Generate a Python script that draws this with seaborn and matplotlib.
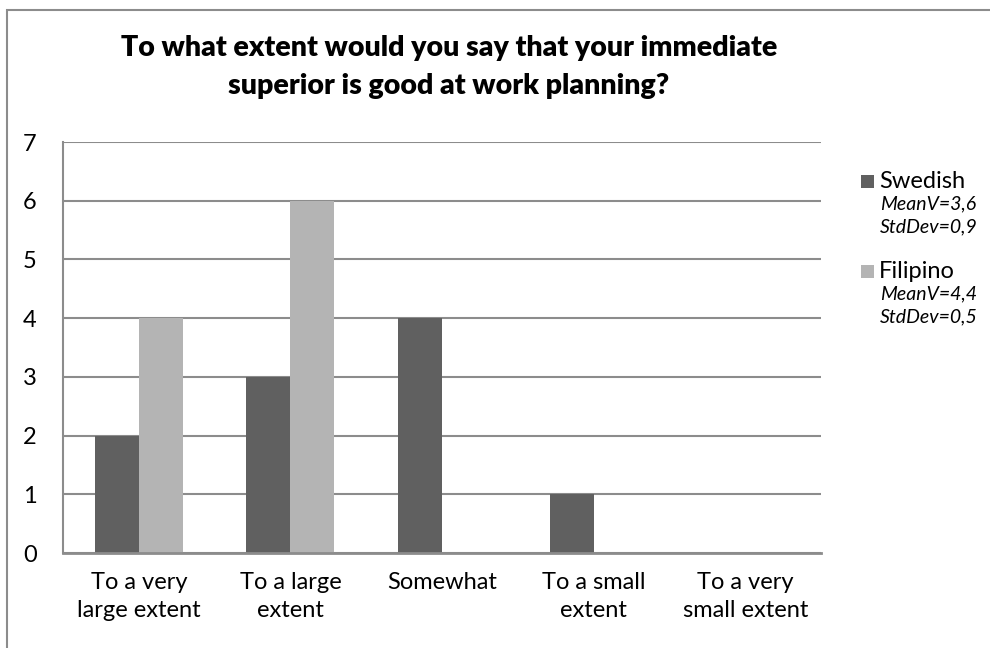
import matplotlib
matplotlib.use("Agg")
import matplotlib.pyplot as plt
from matplotlib.patches import Rectangle
import seaborn as sns
import pandas as pd

categories = ["To a very\nlarge extent", "To a large\nextent", "Somewhat",
              "To a small\nextent", "To a very\nsmall extent"]
swedish = [2, 3, 4, 1, 0]
filipino = [4, 6, 0, 0, 0]
series_names = ["Swedish", "Filipino"]
series_stats = [("MeanV=3,6", "StdDev=0,9"), ("MeanV=4,4", "StdDev=0,5")]
yticks = [0, 1, 2, 3, 4, 5, 6, 7]
title = "To what extent would you say that your immediate\nsuperior is good at work planning?"

colors = ["#606060", "#B4B4B4"]
grid_color = "#8C8C8C"

sns.set_theme(style="white")
plt.rcParams["font.family"] = ["Lato", "DejaVu Sans"]
plt.rcParams["text.color"] = "black"
plt.rcParams["xtick.color"] = "black"
plt.rcParams["ytick.color"] = "black"

df = pd.DataFrame({
    "category": categories * 2,
    "value": swedish + filipino,
    "series": [series_names[0]] * len(categories) + [series_names[1]] * len(categories),
})

W, H = 990, 648
fig = plt.figure(figsize=(W / 100, H / 100), dpi=100)
ax = fig.add_axes([63 / W, 1 - 553 / H, (821 - 63) / W, (553 - 142) / H])

sns.barplot(data=df, x="category", y="value", hue="series", order=categories,
            hue_order=series_names, palette=colors, width=0.58, gap=0,
            saturation=1, linewidth=0, ax=ax, legend=False)

ax.set_ylim(0, 7)
ax.set_xlim(-0.5, len(categories) - 0.5)
ax.set_yticks(yticks)
ax.set_yticklabels([str(t) for t in yticks], fontsize=17)
ax.tick_params(axis="y", length=0, pad=19, labelcolor="black")
ax.tick_params(axis="x", length=0, pad=14, labelsize=17, labelcolor="black")
for lbl in ax.get_xticklabels():
    lbl.set_linespacing(1.4)
ax.set_xlabel("")
ax.set_ylabel("")
ax.yaxis.grid(True, color=grid_color, linewidth=1.5)
ax.set_axisbelow(True)
ax.spines["left"].set_color(grid_color)
ax.spines["left"].set_linewidth(1.5)
ax.spines["bottom"].set_color(grid_color)
ax.spines["bottom"].set_linewidth(2)
ax.spines["right"].set_visible(False)
ax.spines["top"].set_visible(False)

# chart border
fig.patches.append(Rectangle((6.5 / W, -0.05), 1.1, 1 - 10 / H + 0.05,
                             transform=fig.transFigure, fill=False,
                             edgecolor="#8C8C8C", linewidth=1.5))

fig.text(449 / W, 1 - 67 / H, title, ha="center", va="center",
         fontsize=20.5, fontweight="heavy", linespacing=1.55)

# legend with per-series statistics
entries_y = [181, 271]
for name, col, (mean_txt, std_txt), y in zip(series_names, colors, series_stats, entries_y):
    fig.patches.append(Rectangle((861 / W, 1 - (y + 7) / H), 13 / W, 13 / H,
                                 transform=fig.transFigure, facecolor=col,
                                 edgecolor="none"))
    fig.text(879 / W, 1 - y / H, name, ha="left", va="center", fontsize=17)
    fig.text(880 / W, 1 - (y + 23) / H, mean_txt, ha="left", va="center",
             fontsize=14, style="italic")
    fig.text(880 / W, 1 - (y + 46) / H, std_txt, ha="left", va="center",
             fontsize=14, style="italic")

fig.savefig("out.png", dpi=100)
